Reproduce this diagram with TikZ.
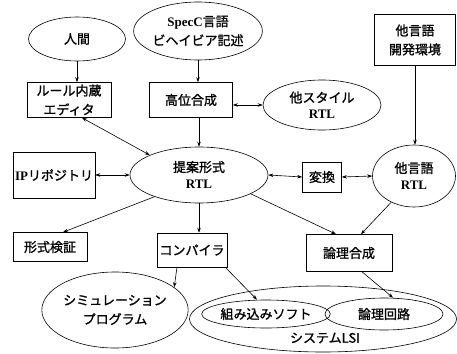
\documentclass[tikz,border=0pt]{standalone}
\usepackage{fontspec}
\setmainfont{Liberation Serif}
\newfontfamily\jp{Noto Sans CJK JP}[FakeBold=1.2]
\usetikzlibrary{shapes.geometric,arrows.meta}
\newcommand\rl[1]{{\rmfamily\bfseries #1}}
\begin{document}
\begin{tikzpicture}[x=1pt,y=-1pt,line width=0.6pt,
  every node/.style={font=\jp\fontsize{13}{19}\selectfont, align=center, inner sep=0pt},
  bx/.style={draw, rectangle},
  el/.style={draw, ellipse},
  arr/.style={-{Stealth[length=5pt,width=3.5pt]}},
  darr/.style={{Stealth[length=5pt,width=3.5pt]}-{Stealth[length=5pt,width=3.5pt]}}]
\useasboundingbox[fill=white] (0,0) rectangle (457,353);
\node[el, minimum width=97, minimum height=44] (hito) at (77,39) {人間};
\node[el, minimum width=120, minimum height=58] (spec) at (198,31) {\rl{SpecC}言語\\ビヘイビア記述};
\node[bx, minimum width=84, minimum height=35] (rule) at (69,100) {ルール内蔵\\エディタ};
\node[bx, minimum width=83, minimum height=35] (kou) at (191,100) {高位合成};
\node[el, minimum width=118, minimum height=50] (tas) at (322,105) {他スタイル\\[-3pt]\rl{RTL}};
\node[bx, minimum width=81, minimum height=51] (kai) at (415,40) {他言語\\開発環境};
\node[el, minimum width=138, minimum height=56] (teian) at (199,175) {提案形式\\[-2pt]\rl{RTL}};
\node[bx, minimum width=82, minimum height=46] (ip) at (54,175) {\rl{IP}リポジトリ};
\node[bx, minimum width=39, minimum height=30] (hen) at (322,177) {変換};
\node[el, minimum width=83, minimum height=62] (tar) at (414,176) {他言語\\[-2pt]\rl{RTL}};
\node[bx, minimum width=74, minimum height=29] (kei) at (50,247) {形式検証};
\node[bx, minimum width=70, minimum height=34] (comp) at (192,250) {コンパイラ};
\node[bx, minimum width=86, minimum height=37] (ron) at (349,253) {論理合成};
\node[el, minimum width=140, minimum height=76] (sim) at (115,310) {シミュレーション\\プログラム};
\node[el, minimum width=267, minimum height=66] (lsi) at (323,319) {};
\node (lsit) at (325,338) {システムLSI};
\node[el, minimum width=118, minimum height=28] (kumi) at (266,314) {組み込みソフト};
\node[el, minimum width=118, minimum height=32] (kairo) at (384,314) {論理回路};
\draw[arr] (hito.south) -- (hito.south |- rule.north);
\draw[arr] (spec.south) -- (spec.south |- kou.north);
\draw[darr] ([xshift=13pt]rule.south) -- (teian.158);
\draw[arr] (kou.south -| teian.north) -- (teian.north);
\draw[darr] (kou.east |- tas.west) -- (tas.west);
\draw[arr] (kai.south) -- (kai.south |- tar.north);
\draw[darr] (ip.east) -- (teian.west);
\draw[darr] (teian.east) -- (hen.west);
\draw[darr] (hen.east) -- (tar.west);
\draw[arr] (teian.206) -- ([xshift=13pt]kei.north);
\draw[arr] (teian.south) -- (teian.south |- comp.north);
\draw[arr] (teian.340) -- ([xshift=-13pt]ron.north);
\draw[arr] (tar.229) -- ([xshift=12pt]ron.north);
\draw[arr] ([xshift=-15pt]comp.south) -- (sim.21);
\draw[arr] ([xshift=-2pt]comp.south east) -- ([xshift=-9pt]kumi.north);
\draw[arr] ([xshift=13pt]ron.south) -- ([xshift=9pt]kairo.north);
\end{tikzpicture}
\end{document}
